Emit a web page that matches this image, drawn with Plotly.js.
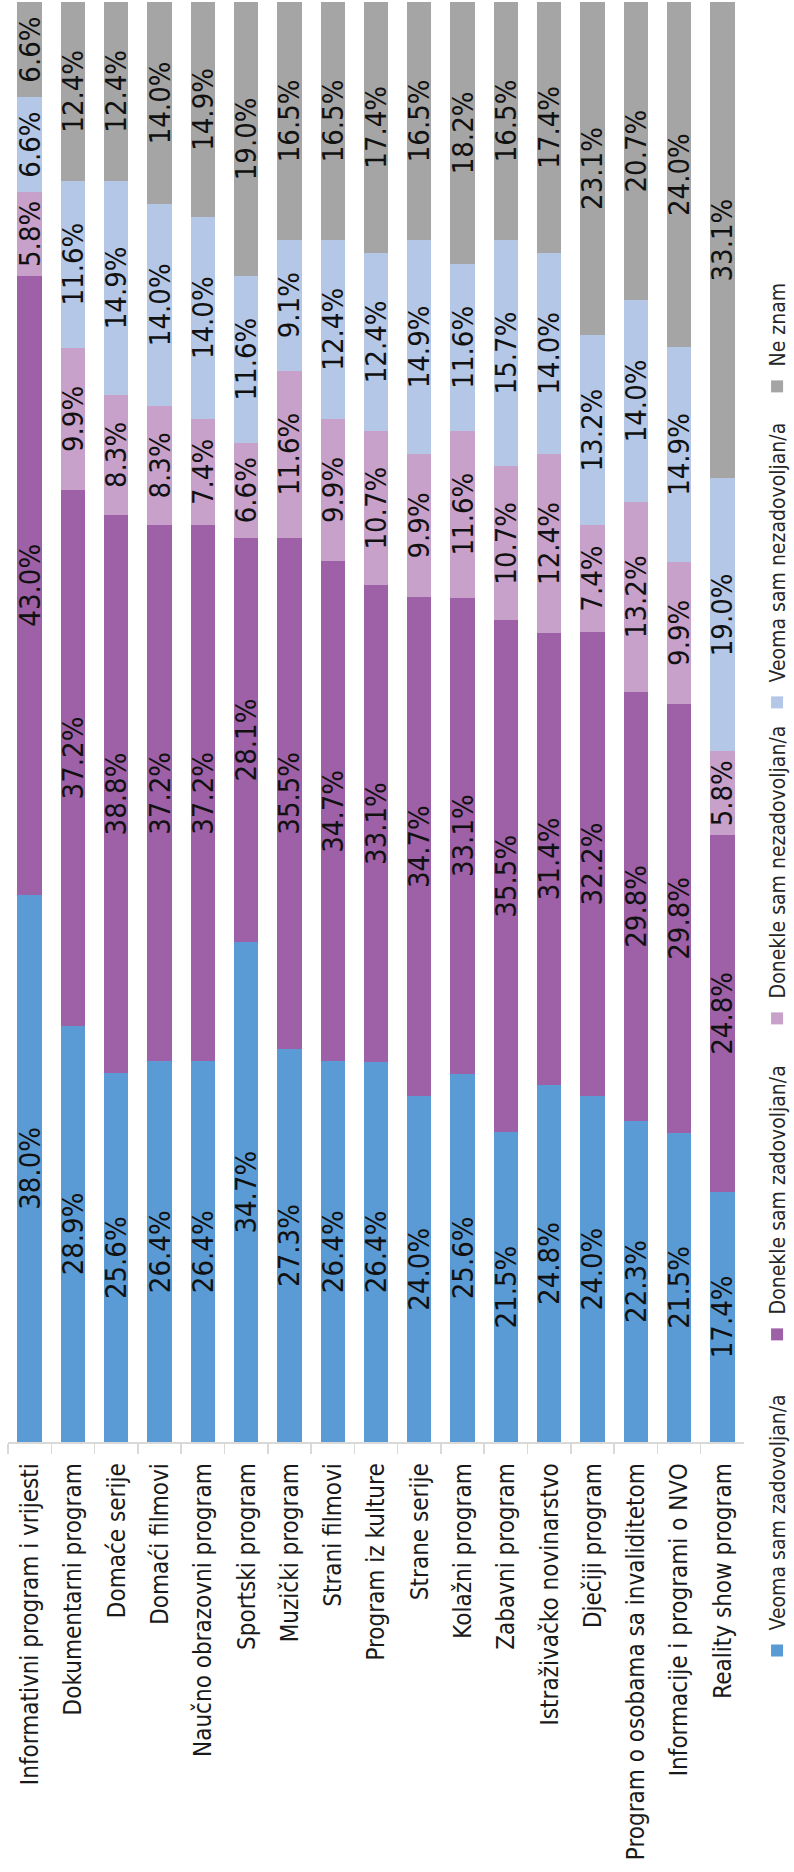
<!DOCTYPE html>
<html>
<head>
<meta charset="utf-8">
<script src="https://cdn.plot.ly/plotly-3.0.1.min.js"></script>
<style>
html,body{margin:0;padding:0;width:794px;height:1872px;overflow:hidden;background:#ffffff;}
#chart{position:absolute;left:0;top:0;width:1872px;height:794px;transform-origin:0 0;}
</style>
</head>
<body>
<div id="chart"></div>
<script>
const categories = ['Informativni program i vrijesti','Dokumentarni program','Domaće serije','Domaći filmovi','Naučno obrazovni program','Sportski program','Muzički program','Strani filmovi','Program iz kulture','Strane serije','Kolažni program','Zabavni program','Istraživačko novinarstvo','Dječiji program','Program o osobama sa invaliditetom','Informacije i programi o NVO','Reality show program'];
const seriesNames = ['Veoma sam zadovoljan/a','Donekle sam zadovoljan/a','Donekle sam nezadovoljan/a','Veoma sam nezadovoljan/a','Ne znam'];
const veomaZadovoljan = [38.0,28.9,25.6,26.4,26.4,34.7,27.3,26.4,26.4,24.0,25.6,21.5,24.8,24.0,22.3,21.5,17.4];
const donekleZadovoljan = [43.0,37.2,38.8,37.2,37.2,28.1,35.5,34.7,33.1,34.7,33.1,35.5,31.4,32.2,29.8,29.8,24.8];
const donekleNezadovoljan = [5.8,9.9,8.3,8.3,7.4,6.6,11.6,9.9,10.7,9.9,11.6,10.7,12.4,7.4,13.2,9.9,5.8];
const veomaNezadovoljan = [6.6,11.6,14.9,14.0,14.0,11.6,9.1,12.4,12.4,14.9,11.6,15.7,14.0,13.2,14.0,14.9,19.0];
const neZnam = [6.6,12.4,12.4,14.0,14.9,19.0,16.5,16.5,17.4,16.5,18.2,16.5,17.4,23.1,20.7,24.0,33.1];
const colors = ['#5B9BD5','#9E60A6','#C8A1CB','#B4C7E7','#A5A5A5'];

const FONT = '"Liberation Sans Narrow", "DejaVu Sans Condensed", "Arial Narrow", sans-serif';
const allSeries = [veomaZadovoljan, donekleZadovoljan, donekleNezadovoljan, veomaNezadovoljan, neZnam];

const traces = allSeries.map((vals, i) => ({
  type: 'bar',
  orientation: 'h',
  name: seriesNames[i],
  y: categories,
  x: vals,
  text: vals.map(v => v.toFixed(1) + '%'),
  texttemplate: '%{text}',
  textposition: 'inside',
  insidetextanchor: 'middle',
  textangle: 0,
  constraintext: 'none',
  textfont: {family: FONT, size: 29, color: '#111111'},
  marker: {color: colors[i], line: {width: 0}},
  hoverinfo: 'skip'
}));

const layout = {
  width: 1872,
  height: 794,
  margin: {l: 430, r: 2, t: 8, b: 50, autoexpand: false},
  paper_bgcolor: '#ffffff',
  plot_bgcolor: '#ffffff',
  barmode: 'stack',
  barnorm: 'percent',
  bargap: 0.437,
  font: {family: FONT, color: '#1a1a1a'},
  xaxis: {range: [0, 100], visible: false, showgrid: false, zeroline: false, fixedrange: true},
  yaxis: {
    type: 'category',
    autorange: 'reversed',
    showline: true,
    linecolor: '#d9d9d9',
    linewidth: 1.5,
    ticks: 'outside',
    ticklen: 10,
    tickcolor: '#d9d9d9',
    tickwidth: 1.5,
    tickson: 'boundaries',
    ticklabelstandoff: 15,
    tickfont: {family: FONT, size: 24, color: '#1a1a1a'},
    showgrid: false,
    zeroline: false,
    fixedrange: true
  },
  showlegend: true,
  legend: {
    orientation: 'h',
    x: -0.1586,
    xanchor: 'left',
    y: -0.0454,
    yanchor: 'middle',
    entrywidth: 271,
    entrywidthmode: 'pixels',
    font: {family: FONT, size: 21, color: '#262626'},
    traceorder: 'normal',
    bgcolor: 'rgba(0,0,0,0)'
  }
};

Plotly.newPlot('chart', traces, layout, {staticPlot: true, displayModeBar: false}).then(() => {
  document.getElementById('chart').style.transform = 'translate(0px, 1872px) rotate(-90deg)';
});
</script>
</body>
</html>
